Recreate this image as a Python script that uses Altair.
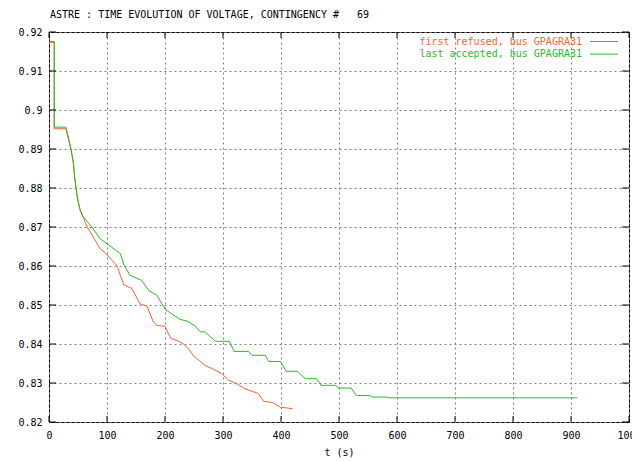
import altair as alt
import pandas as pd

# ---- data ----
series_names = ["first refused, bus GPAGRA31", "last accepted, bus GPAGRA31"]
series_colors = ["#ff5f2a", "#22c022"]

t_ref = [0, 9, 9, 29, 34, 38, 42, 44, 47, 50,
         54, 57, 60, 66, 72, 83, 88, 98, 114, 118,
         123, 129, 143, 157, 169, 180, 186, 200, 206, 211,
         221, 232, 240, 249, 269, 284, 298, 310, 324, 338,
         361, 370, 385, 399, 410, 420]
v_ref = [0.9173, 0.9173, 0.8952, 0.8952, 0.8922, 0.8896, 0.8863, 0.8828, 0.8794, 0.8768,
         0.8742, 0.8734, 0.8721, 0.8700, 0.8685, 0.8657, 0.8645, 0.8632, 0.8606, 0.8598,
         0.8576, 0.8552, 0.8542, 0.8503, 0.8497, 0.8456, 0.8448, 0.8445, 0.8426, 0.8413,
         0.8409, 0.8400, 0.8388, 0.8370, 0.8345, 0.8335, 0.8324, 0.8307, 0.8298, 0.8285,
         0.8273, 0.8253, 0.8250, 0.8238, 0.8236, 0.8234]

t_acc = [0, 9, 9, 29, 34, 38, 42, 44, 47, 49,
         53, 57, 62, 74, 88, 100, 123, 130, 140, 160,
         172, 186, 196, 200, 209, 226, 238, 252, 261, 269,
         287, 311, 319, 344, 350, 373, 379, 399, 409, 428,
         442, 461, 469, 494, 500, 521, 530, 553, 557, 582,
         586, 911]
v_acc = [0.9176, 0.9176, 0.8956, 0.8956, 0.8926, 0.8900, 0.8867, 0.8832, 0.8798, 0.8773,
         0.8747, 0.8730, 0.8721, 0.8700, 0.8670, 0.8657, 0.8632, 0.8600, 0.8576, 0.8563,
         0.8537, 0.8525, 0.8500, 0.8489, 0.8480, 0.8463, 0.8459, 0.8446, 0.8431, 0.8431,
         0.8407, 0.8407, 0.8381, 0.8381, 0.8371, 0.8371, 0.8355, 0.8355, 0.8330, 0.8330,
         0.8311, 0.8311, 0.8294, 0.8294, 0.8287, 0.8287, 0.8268, 0.8268, 0.8264, 0.8264,
         0.8262, 0.8262]

x_ticks = [0, 100, 200, 300, 400, 500, 600, 700, 800, 900, 1000]
y_ticks = [0.82, 0.83, 0.84, 0.85, 0.86, 0.87, 0.88, 0.89, 0.90, 0.91, 0.92]

title_text = "ASTRE : TIME EVOLUTION OF VOLTAGE, CONTINGENCY #\u00a0\u00a0\u00a069"
x_title = "t (s)"

FONT = "DejaVu Sans Mono"
W, H = 580, 390

rows = []
for name, ts, vs in [(series_names[0], t_ref, v_ref), (series_names[1], t_acc, v_acc)]:
    for i, (t, v) in enumerate(zip(ts, vs)):
        rows.append({"series": name, "t": t, "v": v, "idx": i})
df = pd.DataFrame(rows)

xscale = alt.Scale(domain=[0, 1000], nice=False)
yscale = alt.Scale(domain=[0.82, 0.92], nice=False, zero=False)
cscale = alt.Scale(domain=series_names, range=series_colors)

xaxis = alt.Axis(values=x_ticks, title=x_title, format="d", grid=True,
                 labelPadding=13, labelBaseline="middle", labelFlush=False,
                 labelOverlap=False, titleY=30, titleBaseline="middle")
yaxis = alt.Axis(values=y_ticks, title=None, format="~g", grid=True,
                 labelPadding=7, labelFlush=False, labelOverlap=False)

lines = alt.Chart(df).mark_line(strokeWidth=1, interpolate="linear").encode(
    x=alt.X("t:Q", scale=xscale, axis=xaxis),
    y=alt.Y("v:Q", scale=yscale, axis=yaxis),
    color=alt.Color("series:N", scale=cscale, legend=None),
    order="idx:Q",
    detail="series:N",
)

xt = pd.DataFrame({"t": x_ticks})
yt = pd.DataFrame({"v": y_ticks})
tick_bottom = alt.Chart(xt).mark_rule(color="black", strokeWidth=1).encode(
    x=alt.X("t:Q", scale=xscale, axis=xaxis), y=alt.value(H), y2=alt.value(H - 6))
tick_top = alt.Chart(xt).mark_rule(color="black", strokeWidth=1).encode(
    x=alt.X("t:Q", scale=xscale, axis=xaxis), y=alt.value(0), y2=alt.value(6))
tick_left = alt.Chart(yt).mark_rule(color="black", strokeWidth=1).encode(
    y=alt.Y("v:Q", scale=yscale, axis=yaxis), x=alt.value(0), x2=alt.value(7))
tick_right = alt.Chart(yt).mark_rule(color="black", strokeWidth=1).encode(
    y=alt.Y("v:Q", scale=yscale, axis=yaxis), x=alt.value(W), x2=alt.value(W - 7))

title_layer = alt.Chart(pd.DataFrame({"label": [title_text]})).mark_text(
    align="left", baseline="middle", font=FONT, fontSize=10, color="black"
).encode(text="label:N", x=alt.value(1), y=alt.value(-17))

legend_layers = []
for k, (name, col) in enumerate(zip(series_names, series_colors)):
    ly = 9.5 + k * 12.6
    ld = pd.DataFrame({"label": [name]})
    legend_layers.append(
        alt.Chart(ld).mark_text(align="right", baseline="middle", font=FONT,
                                fontSize=10, color=col).encode(
            text="label:N", x=alt.value(533), y=alt.value(ly)))
    legend_layers.append(
        alt.Chart(ld).mark_rule(color=col, strokeWidth=1).encode(
            x=alt.value(541), x2=alt.value(569), y=alt.value(ly)))

chart = alt.layer(
    lines, tick_bottom, tick_top, tick_left, tick_right, title_layer, *legend_layers
).properties(
    width=W, height=H,
    background="white",
    autosize=alt.AutoSizeParams(type="none"),
    padding={"left": 41, "top": 24, "right": 3, "bottom": 37},
).configure_view(
    stroke="black", strokeWidth=1
).configure_axis(
    labelFont=FONT, labelFontSize=10, labelColor="black",
    titleFont=FONT, titleFontSize=10, titleColor="black", titleFontWeight="normal",
    ticks=False, domain=False,
    gridColor="#808080", gridDash=[2, 3], gridWidth=1, gridOpacity=1,
)

chart.save("out.html", embed_options={"renderer": "svg", "actions": False})
